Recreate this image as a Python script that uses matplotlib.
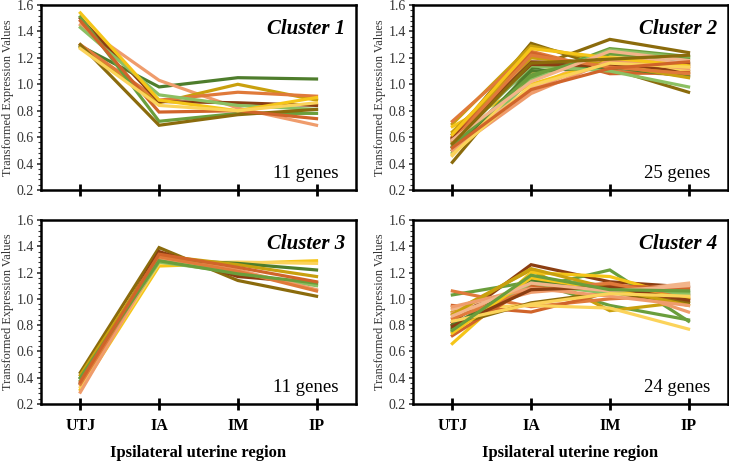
import matplotlib
matplotlib.use('Agg')
import matplotlib.pyplot as plt
from matplotlib.ticker import MultipleLocator

plt.rcParams['font.family'] = ['Liberation Serif', 'DejaVu Serif']

regions = ['UTJ', 'IA', 'IM', 'IP']

# colour palette used for the gene profiles
dkgreen = '#4e7d2c'
green = '#6a9e3c'
ltgreen = '#8cc063'
orange = '#e07a3a'
orred = '#d0642a'
salmon = '#ef9c6c'
peach = '#f2b48a'
brown = '#8b3e12'
olive = '#8b6b0c'
gold = '#c9a00e'
yellow = '#f5c518'
ltyellow = '#fbd35a'

# cluster 1 (11 genes): values at UTJ, IA, IM, IP
c1_colors = [dkgreen, salmon, gold, orange, brown, ltgreen, green, olive, orred, yellow, ltyellow]
c1_values = [
    [1.29, 0.98, 1.05, 1.04],
    [1.45, 1.03, 0.82, 0.69],
    [1.28, 0.86, 1.00, 0.88],
    [1.30, 0.88, 0.94, 0.91],
    [1.50, 0.87, 0.86, 0.84],
    [1.43, 0.92, 0.84, 0.81],
    [1.51, 0.72, 0.78, 0.78],
    [1.30, 0.69, 0.77, 0.81],
    [1.48, 0.79, 0.80, 0.74],
    [1.54, 0.88, 0.80, 0.90],
    [1.27, 0.84, 0.80, 0.86],
]

# cluster 2 (25 genes)
c2_colors = [olive, olive, gold, orange, brown, dkgreen, green, ltgreen, salmon, peach,
             yellow, ltyellow, orred, dkgreen, ltgreen, gold, brown, salmon, orange,
             green, yellow, peach, olive, ltyellow, orred]
c2_values = [
    [0.41, 1.12, 1.34, 1.24],
    [0.60, 1.31, 1.12, 0.94],
    [0.70, 1.29, 1.17, 1.08],
    [0.72, 1.25, 1.10, 1.07],
    [0.58, 1.17, 1.16, 1.10],
    [0.62, 1.12, 1.20, 1.16],
    [0.52, 1.05, 1.27, 1.21],
    [0.48, 1.03, 1.26, 1.20],
    [0.55, 0.95, 1.22, 1.13],
    [0.54, 0.97, 1.24, 1.15],
    [0.68, 1.00, 1.18, 1.12],
    [0.46, 1.08, 1.22, 1.10],
    [0.60, 1.24, 1.08, 1.09],
    [0.50, 1.10, 1.13, 1.06],
    [0.56, 1.14, 1.10, 0.98],
    [0.64, 1.20, 1.15, 1.05],
    [0.59, 1.15, 1.14, 1.15],
    [0.50, 0.93, 1.18, 1.12],
    [0.57, 1.22, 1.13, 1.08],
    [0.53, 1.07, 1.23, 1.19],
    [0.62, 1.27, 1.20, 1.14],
    [0.58, 1.02, 1.25, 1.18],
    [0.55, 1.16, 1.19, 1.22],
    [0.47, 0.99, 1.16, 1.13],
    [0.52, 0.96, 1.12, 1.17],
]

# cluster 3 (11 genes)
c3_colors = [olive, brown, yellow, ltyellow, dkgreen, gold, ltgreen, salmon, orange, green, orred]
c3_values = [
    [0.44, 1.39, 1.14, 1.02],
    [0.36, 1.36, 1.17, 1.12],
    [0.31, 1.25, 1.27, 1.29],
    [0.33, 1.27, 1.28, 1.27],
    [0.40, 1.30, 1.27, 1.22],
    [0.42, 1.33, 1.26, 1.17],
    [0.38, 1.28, 1.20, 1.10],
    [0.29, 1.31, 1.22, 1.07],
    [0.35, 1.32, 1.21, 1.06],
    [0.40, 1.29, 1.19, 1.12],
    [0.37, 1.34, 1.24, 1.13],
]

# cluster 4 (24 genes)
c4_colors = [brown, green, green, gold, orange, orred, yellow, ltyellow, dkgreen, ltgreen,
             salmon, peach, orred, olive, gold, dkgreen, ltgreen, orange, salmon, yellow,
             brown, peach, ltyellow, green]
c4_values = [
    [0.82, 1.26, 1.13, 1.09],
    [1.03, 1.13, 0.95, 0.84],
    [0.78, 1.08, 1.22, 0.83],
    [0.90, 1.22, 0.91, 0.98],
    [1.06, 0.94, 1.00, 1.03],
    [0.95, 0.90, 1.05, 0.99],
    [0.66, 1.20, 1.17, 1.00],
    [0.93, 0.95, 0.93, 0.77],
    [0.77, 1.15, 1.10, 1.05],
    [0.75, 1.17, 1.08, 1.06],
    [0.89, 1.05, 1.10, 0.90],
    [0.92, 1.10, 1.05, 1.12],
    [0.72, 1.10, 1.10, 1.08],
    [0.80, 0.97, 1.05, 0.97],
    [0.88, 1.23, 1.08, 0.95],
    [0.80, 1.14, 1.08, 1.03],
    [0.76, 1.12, 1.04, 1.04],
    [0.85, 1.07, 1.12, 1.00],
    [0.94, 1.08, 1.02, 0.95],
    [0.74, 1.16, 1.07, 1.01],
    [0.79, 1.07, 1.09, 0.99],
    [0.87, 1.12, 1.06, 1.10],
    [0.83, 0.96, 1.04, 1.02],
    [0.76, 1.18, 1.07, 1.06],
]

clusters = [
    ('Cluster 1', '11 genes', c1_values, c1_colors),
    ('Cluster 2', '25 genes', c2_values, c2_colors),
    ('Cluster 3', '11 genes', c3_values, c3_colors),
    ('Cluster 4', '24 genes', c4_values, c4_colors),
]

fig = plt.figure(figsize=(7.29, 4.63), dpi=100)
positions = [
    [0.0562, 0.5896, 0.432, 0.3996],
    [0.5665, 0.5896, 0.432, 0.3996],
    [0.0562, 0.1274, 0.432, 0.3974],
    [0.5665, 0.1274, 0.432, 0.3974],
]

x = list(range(len(regions)))
for i, (title, ngenes, values, colors) in enumerate(clusters):
    ax = fig.add_axes(positions[i])
    for vals, col in zip(values, colors):
        ax.plot(x, vals, color=col, lw=2.3, solid_joinstyle='miter')
    ax.set_xlim(-0.5, 3.5)
    ax.set_ylim(0.2, 1.6)
    ax.set_xticks(x)
    ax.yaxis.set_major_locator(MultipleLocator(0.2))
    ax.yaxis.set_minor_locator(MultipleLocator(0.04))
    ax.set_yticks([0.2, 0.4, 0.6, 0.8, 1.0, 1.2, 1.4, 1.6])
    ax.set_yticklabels(['0.2', '0.4', '0.6', '0.8', '1.0', '1.2', '1.4', '1.6'])
    for s in ax.spines.values():
        s.set_linewidth(1.8)
    ax.tick_params(axis='y', which='major', direction='out', length=3, width=1.2,
                   labelsize=10, pad=2, color='#333333', labelcolor='#333333')
    ax.tick_params(axis='y', which='minor', direction='out', length=2, width=0.8, color='#333333')
    ax.tick_params(axis='x', which='major', direction='inout', length=8, width=2)
    ax.set_ylabel('Transformed Expression Values', fontsize=8.8, labelpad=2, color='#333333')
    if i >= 2:
        ax.set_xticklabels(regions, fontsize=11.5, fontweight='bold')
        ax.tick_params(axis='x', pad=6)
        ax.set_xlabel('Ipsilateral uterine region', fontsize=12, fontweight='bold', labelpad=8)
    else:
        ax.set_xticklabels([])
    ax.text(0.965, 0.87, title, transform=ax.transAxes, ha='right', va='center',
            fontsize=15, fontweight='bold', fontstyle='italic')
    ax.text(0.945, 0.09, ngenes, transform=ax.transAxes, ha='right', va='center',
            fontsize=13.5)

fig.savefig('out.png', dpi=100)
